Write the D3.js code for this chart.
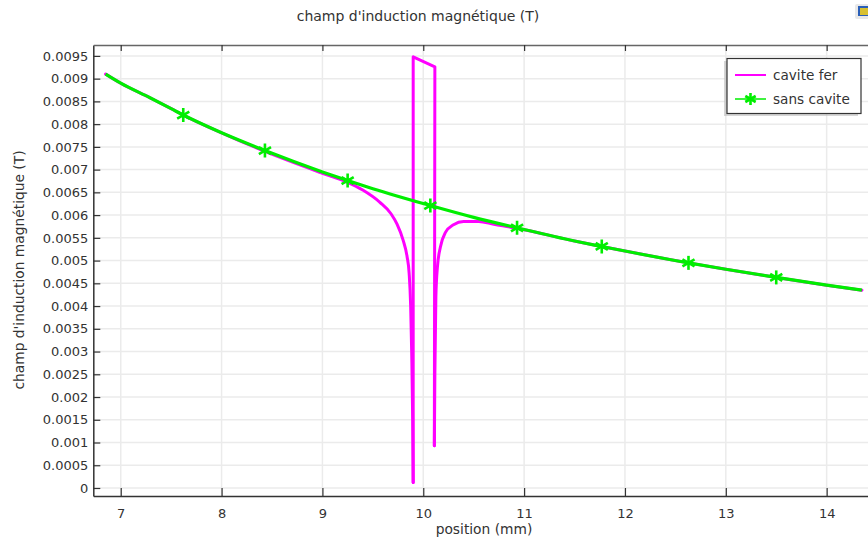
<!DOCTYPE html>
<html><head><meta charset="utf-8">
<script src="https://cdn.jsdelivr.net/npm/d3@7"></script>
<style>
body{margin:0;background:#fff;}
text{font-family:"DejaVu Sans",sans-serif;fill:#333;}
</style></head>
<body><svg id="c" width="868" height="542"></svg>
<script>
// ---- data ----
const title = "champ d'induction magnétique (T)";
const xLabel = "position (mm)";
const yLabel = "champ d'induction magnétique (T)";
const xTicks = [7, 8, 9, 10, 11, 12, 13, 14];
const yTicks = [0,0.0005,0.001,0.0015,0.002,0.0025,0.003,0.0035,0.004,0.0045,0.005,0.0055,0.006,0.0065,0.007,0.0075,0.008,0.0085,0.009,0.0095];
const yTickLabels = ["0","0.0005","0.001","0.0015","0.002","0.0025","0.003","0.0035","0.004","0.0045","0.005","0.0055","0.006","0.0065","0.007","0.0075","0.008","0.0085","0.009","0.0095"];

const sansX = [6.85,7.0,7.29,7.5,7.62,8.0,8.43,9.0,9.25,9.5,10.07,10.5,10.93,11.5,11.77,12.0,12.63,13.0,13.5,14.0,14.35];
const sansY = [0.00910,0.00890,0.00858,0.00834,0.00820,0.00781,0.00742,0.00695,0.00676,0.00658,0.00621,0.00595,0.00572,0.00543,0.00531,0.00521,0.00495,0.00481,0.00463,0.00446,0.00435];

const markX = [7.62,8.43,9.25,10.07,10.93,11.77,12.63,13.50];
const markY = [0.00820,0.00742,0.00676,0.00621,0.00572,0.00531,0.00495,0.00463];

// cavite fer: left branch (before the iron), spike inside the iron, right branch (after)
const ferLeftX = [6.85,7.0,7.29,7.5,7.62,8.0,8.43,9.0,9.25,9.4,9.57,9.68,9.74,9.80,9.84,9.86,9.875,9.885,9.895,9.90];
const ferLeftY = [0.00910,0.00890,0.00858,0.00834,0.00820,0.00781,0.00740,0.00692,0.00672,0.00655,0.00628,0.00603,0.00580,0.00545,0.00508,0.00472,0.00400,0.00300,0.00150,0.00012];
const ferSpikeX = [9.90,9.90,10.115,10.11];
const ferSpikeY = [0.00012,0.00948,0.00926,0.00093];
const ferRightX = [10.11,10.115,10.125,10.14,10.17,10.22,10.30,10.40,10.55,10.70,10.93,11.5,11.77,12.0,12.63,13.0,13.5,14.0,14.35];
const ferRightY = [0.00093,0.00250,0.00420,0.00485,0.00530,0.00562,0.00579,0.00586,0.00586,0.00580,0.00571,0.00543,0.00531,0.00521,0.00495,0.00481,0.00463,0.00446,0.00435];

const seriesNames = ["cavite fer", "sans cavite"];
const colors = ["#ff00ff", "#00ee00"];

// ---- layout ----
const svg = d3.select("#c");
const L = 93.3, R = 868, T = 45, B = 496;
const x = d3.scaleLinear().domain([6.728, 14.41]).range([L, R]);
const y = d3.scaleLinear().domain([-0.000176, 0.00974]).range([B, T]);

// grid
const grid = svg.append("g");
grid.selectAll("line.v").data(xTicks).join("line")
  .attr("x1", d => x(d)).attr("x2", d => x(d)).attr("y1", T).attr("y2", B)
  .attr("stroke", "#ebebeb").attr("stroke-width", 1.5);
grid.selectAll("line.h").data(yTicks).join("line")
  .attr("x1", L).attr("x2", R).attr("y1", d => y(d)).attr("y2", d => y(d))
  .attr("stroke", "#ebebeb").attr("stroke-width", 1.5);

// axes
const xAxis = d3.axisBottom(x).tickValues(xTicks).tickFormat(d3.format("d")).tickSizeInner(-8).tickSizeOuter(0).tickPadding(13);
const gx = svg.append("g").attr("transform", `translate(0,${B})`).call(xAxis);
const yAxis = d3.axisLeft(y).tickValues(yTicks).tickFormat((d,i) => yTickLabels[i]).tickSizeInner(-7).tickSizeOuter(0).tickPadding(5);
const gy = svg.append("g").attr("transform", `translate(${L},0)`).call(yAxis);
const xTop = d3.axisTop(x).tickValues(xTicks).tickFormat("").tickSizeInner(-6).tickSizeOuter(0);
const gt = svg.append("g").attr("transform", `translate(0,${T})`).call(xTop);
[gx, gy, gt].forEach(g => {
  g.select(".domain").attr("stroke", "#333").attr("stroke-width", 1.5);
  g.selectAll(".tick line").attr("stroke", "#333").attr("stroke-width", 1.2);
  g.selectAll(".tick text").attr("font-size", 13).attr("fill", "#333").attr("font-family", "DejaVu Sans");
});
gt.select(".domain").attr("stroke", "#666");

// clip
svg.append("clipPath").attr("id", "clip").append("rect").attr("x", L).attr("y", T).attr("width", R - L).attr("height", B - T);

const smooth = d3.line().x(d => x(d[0])).y(d => y(d[1])).curve(d3.curveMonotoneX);
const straight = d3.line().x(d => x(d[0])).y(d => y(d[1]));
const plot = svg.append("g").attr("clip-path", "url(#clip)");
const ferParts = [
  [ferLeftX.map((v, i) => [v, ferLeftY[i]]), smooth],
  [ferSpikeX.map((v, i) => [v, ferSpikeY[i]]), straight],
  [ferRightX.map((v, i) => [v, ferRightY[i]]), smooth]
];
ferParts.forEach(([pts, gen]) => {
  plot.append("path").datum(pts).attr("d", gen).attr("fill", "none")
    .attr("stroke", colors[0]).attr("stroke-width", 3).attr("stroke-linejoin", "round").attr("stroke-linecap", "round");
});
plot.append("path").datum(sansX.map((v, i) => [v, sansY[i]]))
  .attr("d", smooth).attr("fill", "none").attr("stroke", colors[1]).attr("stroke-width", 3.2).attr("stroke-linejoin", "round");

function star(g, cx, cy, s) {
  const a = [90, 30, 150];
  a.forEach(deg => {
    const r = deg * Math.PI / 180;
    g.append("line")
      .attr("x1", cx - s * Math.cos(r)).attr("y1", cy - s * Math.sin(r))
      .attr("x2", cx + s * Math.cos(r)).attr("y2", cy + s * Math.sin(r))
      .attr("stroke", colors[1]).attr("stroke-width", 2.6);
  });
}
const mg = plot.append("g");
markX.forEach((v, i) => star(mg, x(v), y(markY[i]), 7));

// legend
const lg = svg.append("g");
lg.append("rect").attr("x", 724).attr("y", 61).attr("width", 134).attr("height", 55).attr("fill", "#bbb").attr("opacity", 0.6);
lg.append("rect").attr("x", 727).attr("y", 58.5).attr("width", 134).attr("height", 55).attr("fill", "#fff").attr("stroke", "#333").attr("stroke-width", 1.2);
const rowsY = [75, 99];
seriesNames.forEach((n, i) => {
  lg.append("line").attr("x1", 735).attr("x2", 766).attr("y1", rowsY[i]).attr("y2", rowsY[i])
    .attr("stroke", colors[i]).attr("stroke-width", i === 0 ? 2 : 1.5);
  lg.append("text").attr("x", 773).attr("y", rowsY[i] + 5).attr("font-size", 13.6).text(n);
});
star(lg, 750.5, 99, 6);

// title and labels
svg.append("text").attr("x", 418).attr("y", 21).attr("text-anchor", "middle").attr("font-size", 14).text(title);
svg.append("text").attr("x", 484).attr("y", 534).attr("text-anchor", "middle").attr("font-size", 13.8).text(xLabel);
svg.append("text").attr("transform", "translate(24,270) rotate(-90)").attr("text-anchor", "middle").attr("font-size", 13.8).text(yLabel);

// small corner icon
const ic = svg.append("g");
ic.append("rect").attr("x", 855).attr("y", 4).attr("width", 14).attr("height", 15).attr("rx", 2).attr("fill", "#e8e8e8");
ic.append("rect").attr("x", 858).attr("y", 6).attr("width", 10).attr("height", 10).attr("fill", "#2a5fb8");
ic.append("rect").attr("x", 860).attr("y", 8).attr("width", 8).attr("height", 7).attr("fill", "#d8c030");
</script></body></html>
